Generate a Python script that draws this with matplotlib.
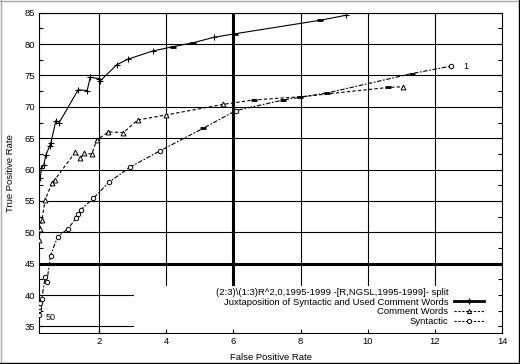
import numpy as np
import matplotlib.pyplot as plt
from matplotlib.lines import Line2D
from matplotlib.patches import Rectangle
from matplotlib.ticker import MultipleLocator

plt.rcParams['font.family'] = ['Liberation Sans', 'DejaVu Sans']

# Juxtaposition of Syntactic and Used Comment Words
juxt_fpr = [0.25, 0.29, 0.36, 0.42, 0.53, 0.57, 0.72, 0.82, 1.38, 1.65, 1.74, 2.01,
            2.03, 2.53, 2.86, 3.60, 4.21, 4.79, 5.43, 6.05, 8.58, 9.35]
juxt_tpr = [58.6, 60.2, 60.8, 62.3, 63.7, 64.3, 67.8, 67.5, 72.7, 72.6, 74.7, 74.5,
            74.1, 76.7, 77.6, 78.9, 79.6, 80.2, 81.1, 81.65, 83.8, 84.6]
juxt_dash = [16, 17, 19, 20]

# Comment Words
comm_fpr = [0.22, 0.25, 0.30, 0.40, 0.60, 0.69, 1.30, 1.44, 1.56, 1.79, 1.93, 2.28,
            2.73, 3.15, 3.99, 5.70, 6.60, 7.99, 10.61, 11.04]
comm_tpr = [48.7, 50.6, 51.9, 55.2, 57.8, 58.4, 62.8, 61.8, 62.6, 62.5, 64.7, 66.0,
            65.9, 67.9, 68.7, 70.4, 71.1, 71.6, 73.1, 73.2]
comm_dash = [16, 17, 18]

# Syntactic
syn_fpr = [0.22, 0.22, 0.22, 0.25, 0.30, 0.40, 0.45, 0.56, 0.77, 1.09, 1.32, 1.39,
           1.46, 1.83, 2.30, 2.93, 3.82, 5.11, 6.07, 7.49, 8.78, 11.31, 12.48]
syn_tpr = [36.8, 37.6, 38.1, 38.7, 39.4, 42.9, 42.1, 46.3, 49.3, 50.6, 52.3, 52.9,
           53.6, 55.4, 58.0, 60.4, 63.0, 66.6, 69.4, 71.1, 72.2, 75.3, 76.5]
syn_dash = [17, 19, 20, 21]

legend_title = "(2:3)\\(1:3)R^2,0,1995-1999 -[R,NGSL,1995-1999]- split"
labels = ["Juxtaposition of Syntactic and Used Comment Words", "Comment Words", "Syntactic"]


def draw(ax, xs, ys, dash_idx, **kw):
    keep = [i for i in range(len(xs)) if i not in dash_idx]
    ax.plot(xs, ys, markevery=keep, zorder=3, **kw)
    ax.plot([xs[i] for i in dash_idx], [ys[i] for i in dash_idx], ls='none', marker='_',
            ms=4, mew=2, color='black', zorder=3)


fig = plt.figure(figsize=(5.2, 3.64), dpi=100)
ax = fig.add_axes([0.0756, 0.086, 0.8904, 0.879])

for y in range(35, 86, 5):
    ax.axhline(y, color='black', lw=2.2 if y == 45 else 0.8, zorder=0.5)
for x in range(2, 14, 2):
    ax.axvline(x, color='black', lw=2.2 if x == 6 else 0.8, zorder=0.5)

# white area behind the key
ax.add_patch(Rectangle((3.04, 34), 11, 7.5, facecolor='white', edgecolor='none', zorder=1))

draw(ax, juxt_fpr, juxt_tpr, juxt_dash, color='black', lw=0.8, ls='-', marker='+', ms=5, mew=0.8)
draw(ax, comm_fpr, comm_tpr, comm_dash, color='black', lw=0.8, ls=(0, (3, 2)), marker='^',
     ms=3.5, mfc='white', mew=0.7)
draw(ax, syn_fpr, syn_tpr, syn_dash, color='black', lw=0.8, ls=(0, (1.5, 1.5, 4, 1.5)),
     marker='o', ms=3.2, mfc='white', mew=0.7)

ax.text(0.40, 36.5, "50", fontsize=6.5, va='center', ha='left')
ax.text(12.85, 76.5, "1", fontsize=6.5, va='center', ha='left')

key1 = Line2D([], [], color='black', lw=2, marker='+', ms=5, mew=1)
key2 = Line2D([], [], color='black', lw=0.8, ls=(0, (2, 1.5)), marker='^', ms=3, mfc='white', mew=0.7)
key3 = Line2D([], [], color='black', lw=0.8, ls=(0, (2, 1.5)), marker='o', ms=3, mfc='white', mew=0.7)
blank = Line2D([], [], ls='none')
leg = ax.legend([blank, key1, key2, key3], [legend_title] + labels, loc='lower right',
                bbox_to_anchor=(0.975, 0.0), frameon=False, markerfirst=False,
                fontsize=6.8, handlelength=3.2, handletextpad=0.6, labelspacing=0.08,
                borderpad=0.2)
leg.set_zorder(4)

ax.set_xlim(0.226, 14)
ax.set_ylim(34, 85)
ax.xaxis.set_major_locator(MultipleLocator(2))
ax.yaxis.set_major_locator(MultipleLocator(5))
ax.yaxis.set_minor_locator(MultipleLocator(2.5))
ax.tick_params(axis='both', which='both', direction='in', labelsize=6.8, length=3, width=0.8,
               pad=3)
ax.tick_params(axis='y', which='both', left=True, right=True)
for s in ax.spines.values():
    s.set_linewidth(0.8)

ax.set_xlabel("False Positive Rate", fontsize=6.8, labelpad=5)
ax.set_ylabel("True Positive Rate", fontsize=6.8, labelpad=7)

# outer frame
fig.add_artist(Line2D([0, 1], [0.998, 0.998], color='#aaaaaa', lw=1, transform=fig.transFigure))
fig.add_artist(Line2D([0.001, 0.001], [0, 1], color='#aaaaaa', lw=1, transform=fig.transFigure))
fig.add_artist(Line2D([0, 1], [0.002, 0.002], color='black', lw=1, transform=fig.transFigure))
fig.add_artist(Line2D([0.999, 0.999], [0, 1], color='black', lw=1, transform=fig.transFigure))

fig.savefig("out.png", dpi=100)
